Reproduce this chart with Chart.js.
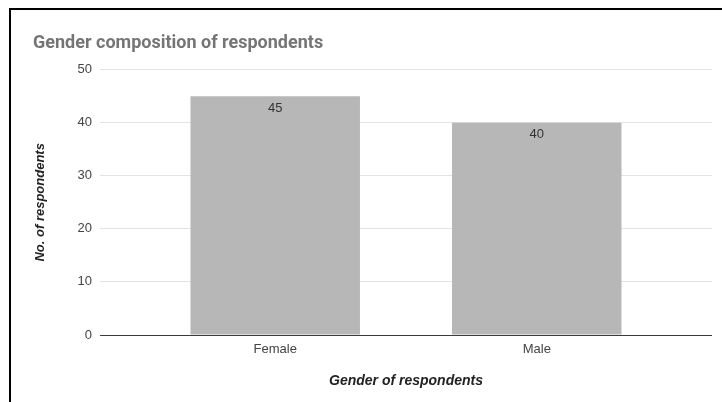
<!DOCTYPE html>
<html>
<head>
<meta charset="utf-8">
<title>Gender composition of respondents</title>
<script src="https://cdn.jsdelivr.net/npm/chart.js@4/dist/chart.umd.min.js"></script>
<style>
  html, body { margin: 0; padding: 0; background: #fff; }
  #wrap { position: relative; width: 722px; height: 402px; overflow: hidden; }
  #frame {
    position: absolute; left: 9px; top: 8px; right: -4px; bottom: -4px;
    border-left: 2px solid #000; border-top: 2px solid #000;
    pointer-events: none;
  }
  canvas { position: absolute; left: 0; top: 0; }
</style>
</head>
<body>
<div id="wrap">
  <canvas id="gender-chart" width="722" height="402"></canvas>
  <div id="frame"></div>
</div>
<script>
'use strict';

// ******** DATA **************
let genders = ['Female', 'Male'];
let respondentCounts = [45, 40];
let countTicks = [0, 10, 20, 30, 40, 50];

// ******** STYLE **************
let barColor = '#b7b7b7';
let gridColor = '#e3e3e3';
let baselineColor = '#3a3a3a';
let fontFamily = '"Liberation Sans", Arial, sans-serif';

// writes each count just inside the top of its bar
let valueLabels = {
  id: 'valueLabels',
  afterDatasetsDraw(chart){
    let ctx = chart.ctx;
    let meta = chart.getDatasetMeta(0);
    ctx.save();
    ctx.font = '13px ' + fontFamily;
    ctx.fillStyle = '#333';
    ctx.textAlign = 'center';
    ctx.textBaseline = 'middle';
    meta.data.forEach((bar, i) => {
      ctx.fillText(String(respondentCounts[i]), bar.x, bar.y + 12);
    });
    ctx.restore();
  }
};

let chartCanvas = document.getElementById('gender-chart');

let chartSettings = {
  type: 'bar',
  data: {
    datasets: [{
      label: 'No. of respondents',
      data: respondentCounts.map((count, i) => ({x: i, y: count})),
      backgroundColor: barColor,
      borderWidth: 0,
      categoryPercentage: 1,
      barPercentage: 0.648
    }]
  },
  options: {
    responsive: false,
    animation: false,
    layout: {
      padding: {left: 33, right: 10, top: 0, bottom: 8}
    },
    plugins: {
      legend: {display: false},
      tooltip: {enabled: false},
      title: {
        display: true,
        text: 'Gender composition of respondents',
        align: 'start',
        color: '#757575',
        font: {family: 'Roboto, ' + fontFamily, size: 18, weight: 'bold'},
        padding: {top: 33, bottom: 15}
      }
    },
    scales: {
      x: {
        type: 'linear',
        offset: false,
        min: -0.67,
        max: 1.67,
        afterBuildTicks(scale){
          scale.ticks = genders.map((g, i) => ({value: i}));
        },
        afterFit(scale){
          scale.height = 59;
        },
        grid: {display: false},
        border: {display: false},
        ticks: {
          color: '#444',
          padding: -1,
          font: {family: fontFamily, size: 13},
          callback: (value) => genders[value]
        },
        title: {
          display: true,
          text: 'Gender of respondents',
          color: '#222',
          font: {family: fontFamily, size: 14, weight: 'bold', style: 'italic'},
          padding: {top: 4, bottom: 4}
        }
      },
      y: {
        min: countTicks[0],
        max: countTicks[countTicks.length - 1],
        afterBuildTicks(scale){
          scale.ticks = countTicks.map(v => ({value: v}));
        },
        afterFit(scale){
          scale.width = 67;
        },
        grid: {
          drawTicks: false,
          color: (ctx) => ctx.tick && ctx.tick.value === 0 ? baselineColor : gridColor,
          lineWidth: 1
        },
        border: {display: false},
        ticks: {
          color: '#444',
          padding: 8,
          font: {family: fontFamily, size: 13}
        },
        title: {
          display: true,
          text: 'No. of respondents',
          color: '#222',
          font: {family: fontFamily, size: 13, weight: 'bold', style: 'italic'},
          padding: {top: 0, bottom: 4}
        }
      }
    }
  },
  plugins: [valueLabels]
};

new Chart(chartCanvas, chartSettings);
</script>
</body>
</html>
